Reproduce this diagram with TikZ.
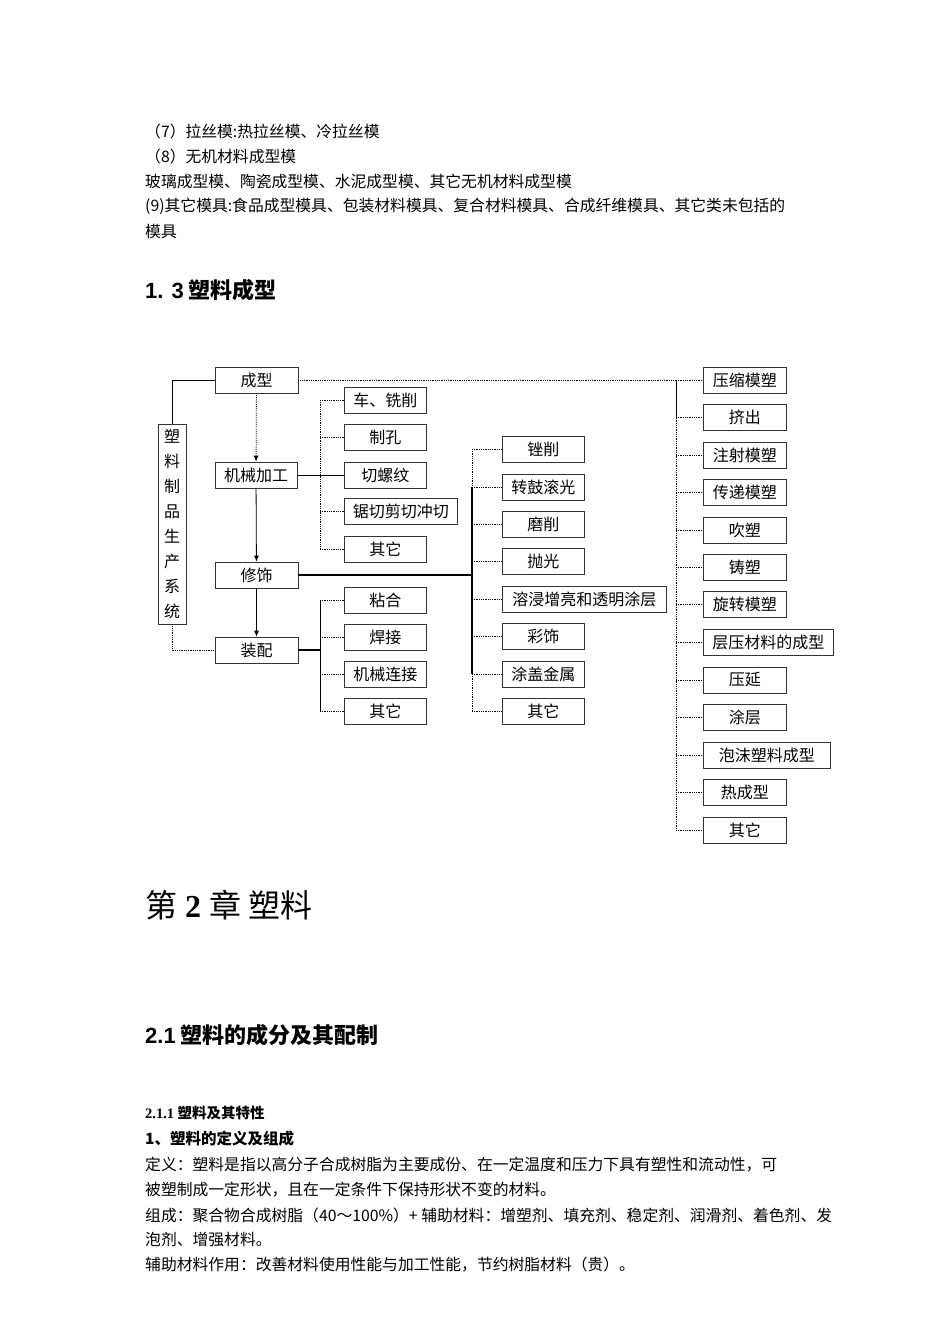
\documentclass[tikz,border=0pt]{standalone}
\usepackage{fontspec}
\setmainfont{Liberation Serif}
\newfontfamily\cjk{Noto Sans CJK SC}
\newfontfamily\hd{Liberation Sans}
\usetikzlibrary{arrows.meta}
\begin{document}
\begin{tikzpicture}[x=1pt,y=-1pt,
  bx/.style={draw=black!80,line width=0.7pt,minimum height=26pt,inner sep=1pt,font=\cjk\fontsize{16}{16}\selectfont},
  ln/.style={line width=0.8pt},
  dl/.style={line width=0.8pt,densely dotted},
  tl/.style={line width=1.6pt},
  body/.style={anchor=west,inner sep=0pt,font=\cjk\fontsize{15.8}{16}\selectfont},
  ar/.style={line width=0.8pt,-{Latex[length=6pt,width=5pt]}}]
\useasboundingbox (0,0) rectangle (950,1344);
% text
\node[body] (t1) at (145,131) {（7）拉丝模:热拉丝模、冷拉丝模};
\node[body] (t2) at (145,156) {（8）无机材料成型模};
\node[body] (t3) at (145,181) {玻璃成型模、陶瓷成型模、水泥成型模、其它无机材料成型模};
\node[body] (t4) at (145,206) {(9)其它模具:食品成型模具、包装材料模具、复合材料模具、合成纤维模具、其它类未包括的};
\node[body] (t5) at (145,231) {模具};
\node[body,font=\cjk\bfseries\fontsize{22}{22}\selectfont] (h1) at (145,290) {{\hd\bfseries 1. 3} 塑料成型};
\node[body,font=\cjk\fontsize{32}{32}\selectfont] (h2) at (145,905) {第{\rmfamily\bfseries~2~}章 塑料};
\node[body,font=\cjk\bfseries\fontsize{22}{22}\selectfont] (h3) at (145,1035) {{\hd\bfseries 2.1} 塑料的成分及其配制};
\node[body,font=\cjk\bfseries\fontsize{14.5}{15}\selectfont] (h4) at (145,1113) {{\rmfamily\bfseries 2.1.1} 塑料及其特性};
\node[body,font=\cjk\bfseries\fontsize{15.5}{16}\selectfont] (h5) at (145,1139) {1、塑料的定义及组成};
\node[body] (b1) at (145,1165) {定义：塑料是指以高分子合成树脂为主要成份、在一定温度和压力下具有塑性和流动性，可};
\node[body] (b2) at (145,1190) {被塑制成一定形状，且在一定条件下保持形状不变的材料。};
\node[body] (b3) at (145,1215) {组成：聚合物合成树脂（40～100\%）+ 辅助材料：增塑剂、填充剂、稳定剂、润滑剂、着色剂、发};
\node[body] (b4) at (145,1240) {泡剂、增强材料。};
\node[body] (b5) at (145,1265) {辅助材料作用：改善材料使用性能与加工性能，节约树脂材料（贵）。};
% main column
\node[bx,minimum width=83pt] (cx) at (256.5,380) {成型};
\node[bx,minimum width=82pt] (jx) at (256,475) {机械加工};
\node[bx,minimum width=83pt] (xs) at (256.5,575) {修饰};
\node[bx,minimum width=83pt] (zp) at (256.5,650) {装配};
\node[bx,minimum width=28pt,minimum height=200pt,align=center,font=\cjk\fontsize{16}{25}\selectfont] (sys) at (172,524) {塑\\料\\制\\品\\生\\产\\系\\统};
\draw[ln] (sys.north) |- (cx.west);
\draw[dl] (sys.south) |- (zp.west);
\draw[ar,densely dotted] (cx) -- (jx);
\draw[ar] (jx) -- (xs);
\draw[ar] (xs) -- (zp);
% machining branch
\draw[dl] (320,400) -- (320,549);
\foreach \n/\t/\y/\w in {a1/车、铣削/400/82,a2/制孔/437/82,a3/切螺纹/475/82,a4/锯切剪切冲切/511/113,a5/其它/549/82}{
  \node[bx,minimum width=\w pt,anchor=west] (\n) at (344,\y) {\t};
  \draw[dl] (320,\y) -- (\n.west);
}
\draw[ln] (jx.east) -- (a3.west);
% assembly branch
\draw[ln] (320,600) -- (320,711);
\foreach \n/\t/\y in {c1/粘合/600,c2/焊接/637,c3/机械连接/674,c4/其它/711}{
  \node[bx,minimum width=82pt,anchor=west] (\n) at (344,\y) {\t};
  \draw[dl] (320,\y) -- (\n.west);
}
\draw[tl] (zp.east) -- (320,650);
% finishing branch
\draw[tl] (xs.east) -- (472,575);
\draw[dl] (472,449) -- (472,711);
\draw[tl] (472,487) -- (472,674);
\foreach \n/\t/\y/\w in {d1/锉削/449/82,d2/转鼓滚光/487/82,d3/磨削/524/82,d4/抛光/561/82,d5/溶浸增亮和透明涂层/599/164,d6/彩饰/636/82,d7/涂盖金属/674/82,d8/其它/711/82}{
  \node[bx,minimum width=\w pt,anchor=west] (\n) at (502,\y) {\t};
  \draw[dl] (472,\y) -- (\n.west);
}
% forming branch
\coordinate (r0) at (676,380);
\draw[dl] (cx.east) -- (r0);
\draw[dl] (r0) -- (676,830);
\draw[ln] (r0) -- (676,418);
\foreach \n/\t/\y/\w in {e1/压缩模塑/380/83,e2/挤出/417/83,e3/注射模塑/455/83,e4/传递模塑/492/83,e5/吹塑/530/83,e6/铸塑/567/83,e7/旋转模塑/604/83,e8/层压材料的成型/642/130,e9/压延/680/83,e10/涂层/717/83,e11/泡沫塑料成型/755/127,e12/热成型/792/83,e13/其它/830/83}{
  \node[bx,minimum width=\w pt,anchor=west] (\n) at (703,\y) {\t};
  \draw[dl] (676,\y) -- (\n.west);
}
\end{tikzpicture}
\end{document}
